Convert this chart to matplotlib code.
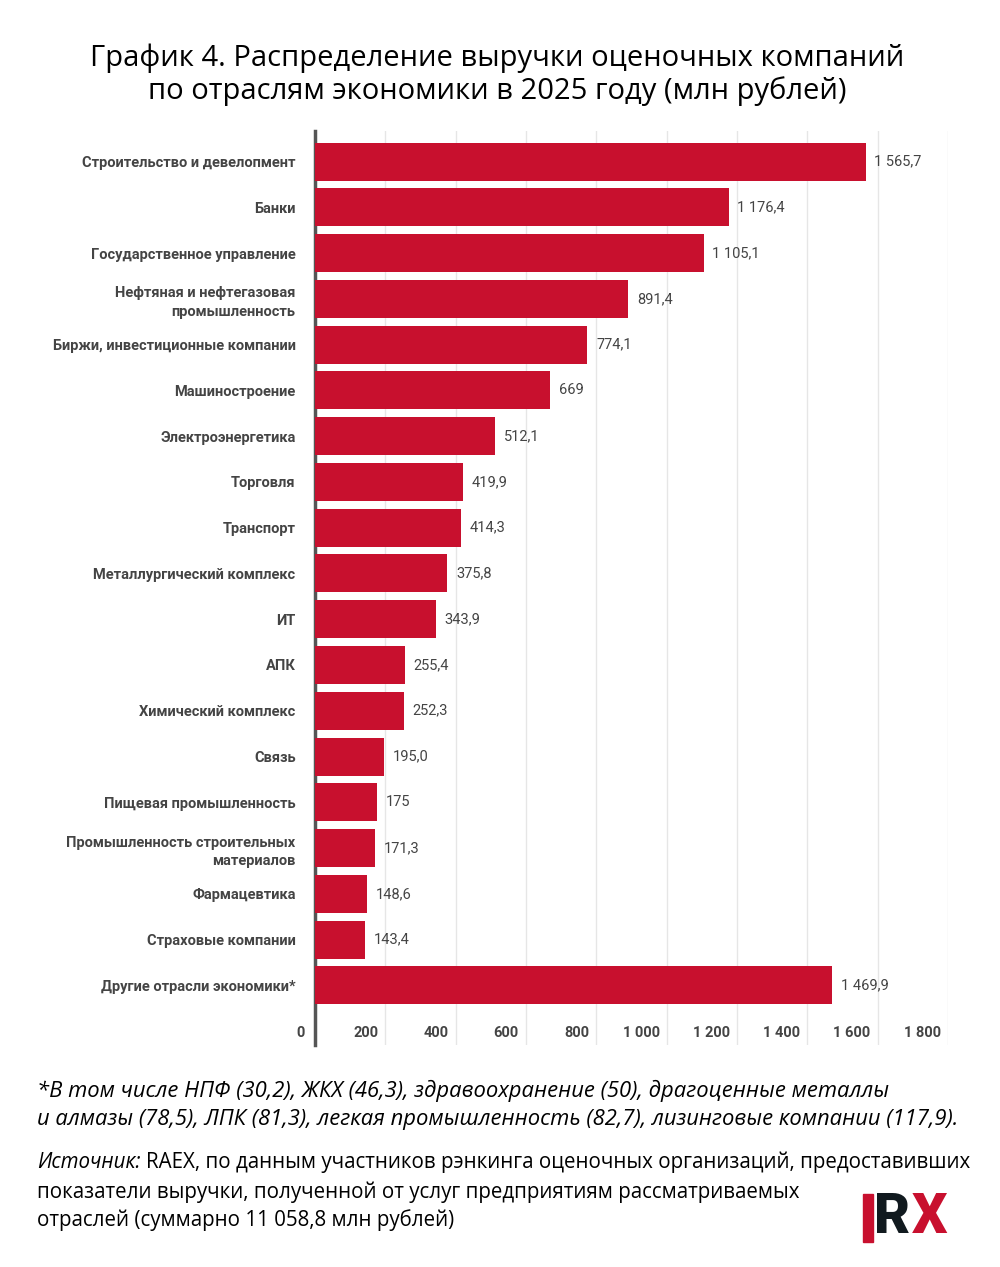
import matplotlib.pyplot as plt
from matplotlib.patches import Rectangle

# Revenue by industry, 2025 (mln rub)
categories = ['Строительство и девелопмент', 'Банки', 'Государственное управление',
              'Нефтяная и нефтегазовая\nпромышленность', 'Биржи, инвестиционные компании',
              'Машиностроение', 'Электроэнергетика', 'Торговля', 'Транспорт',
              'Металлургический комплекс', 'ИТ', 'АПК', 'Химический комплекс', 'Связь',
              'Пищевая промышленность', 'Промышленность строительных\nматериалов',
              'Фармацевтика', 'Страховые компании', 'Другие отрасли экономики*']
values = [1565.7, 1176.4, 1105.1, 891.4, 774.1, 669, 512.1, 419.9, 414.3, 375.8,
          343.9, 255.4, 252.3, 195.0, 175, 171.3, 148.6, 143.4, 1469.9]
value_labels = ['1 565,7', '1 176,4', '1 105,1', '891,4', '774,1', '669', '512,1', '419,9',
                '414,3', '375,8', '343,9', '255,4', '252,3', '195,0', '175', '171,3',
                '148,6', '143,4', '1 469,9']
xticks = [200, 400, 600, 800, 1000, 1200, 1400, 1600, 1800]
xtick_labels = ['200', '400', '600', '800', '1 000', '1 200', '1 400', '1 600', '1 800']

RED = '#C8102E'
GRAY = '#444444'
plt.rcParams['font.family'] = ['Roboto', 'DejaVu Sans']
SERIF_LIKE = ['Open Sans', 'DejaVu Sans']

fig = plt.figure(figsize=(10, 12.67), dpi=100)
ax = fig.add_axes([0.315, 0.175, 0.633, 0.722])

ypos = list(range(len(values)))
ax.barh(ypos, values, height=0.83, color=RED, zorder=3)
for y, v, lab in zip(ypos, values, value_labels):
    ax.text(v + 25, y, lab, va='center', ha='left', fontsize=10.5, color=GRAY)

ax.set_xlim(0, 1800)
ax.set_ylim(19.31, -0.68)
ax.set_yticks(ypos)
ax.set_yticklabels(categories, fontsize=10.5, fontweight='bold', color=GRAY, linespacing=1.4)
ax.tick_params(axis='y', length=0, pad=14)
ax.set_xticks(xticks)
ax.set_xticklabels([])
ax.tick_params(axis='x', length=0)
ax.grid(axis='x', color='#e6e6e6', linewidth=1, zorder=0)

# tick labels sit inside the axes, left of each gridline
label_y = 19.05
ax.text(-30, label_y, '0', ha='right', va='center', fontsize=10.5, fontweight='bold', color=GRAY)
for x, lab in zip(xticks, xtick_labels):
    ax.text(x - 20, label_y, lab, ha='right', va='center', fontsize=10.5, fontweight='bold', color=GRAY)

for s in ['top', 'right', 'bottom']:
    ax.spines[s].set_visible(False)
ax.spines['left'].set_color('#555555')
ax.spines['left'].set_linewidth(2.5)

fig.text(0.497, 0.941, 'График 4. Распределение выручки оценочных компаний\nпо отраслям экономики в 2025 году (млн рублей)',
         ha='center', va='center', fontsize=21, family=SERIF_LIKE, linespacing=1.1)

fig.text(0.037, 0.128, '*В том числе НПФ (30,2), ЖКХ (46,3), здравоохранение (50), драгоценные металлы\n'
         'и алмазы (78,5), ЛПК (81,3), легкая промышленность (82,7), лизинговые компании (117,9).',
         ha='left', va='center', fontsize=15.8, style='italic', family=SERIF_LIKE, linespacing=1.4)
src = fig.text(0.037, 0.0825, 'Источник:', ha='left', va='center', fontsize=14.8,
               style='italic', family=SERIF_LIKE)
fig.canvas.draw()
bb = src.get_window_extent().transformed(fig.transFigure.inverted())
fig.text(bb.x1 + 0.005, 0.0825, 'RAEX, по данным участников рэнкинга оценочных организаций, предоставивших',
         ha='left', va='center', fontsize=14.8, family=SERIF_LIKE)
fig.text(0.037, 0.048, 'показатели выручки, полученной от услуг предприятиям рассматриваемых\n'
         'отраслей (суммарно 11 058,8 млн рублей)',
         ha='left', va='center', fontsize=14.8, family=SERIF_LIKE, linespacing=1.4)

# logo
fig.patches.append(Rectangle((0.863, 0.020), 0.010, 0.038, transform=fig.transFigure, color=RED))
fig.text(0.874, 0.039, 'R', ha='left', va='center', fontsize=40, fontweight='black', color='#111a1f')
fig.text(0.912, 0.039, 'X', ha='left', va='center', fontsize=40, fontweight='black', color=RED)

plt.savefig('out.png', dpi=100)
